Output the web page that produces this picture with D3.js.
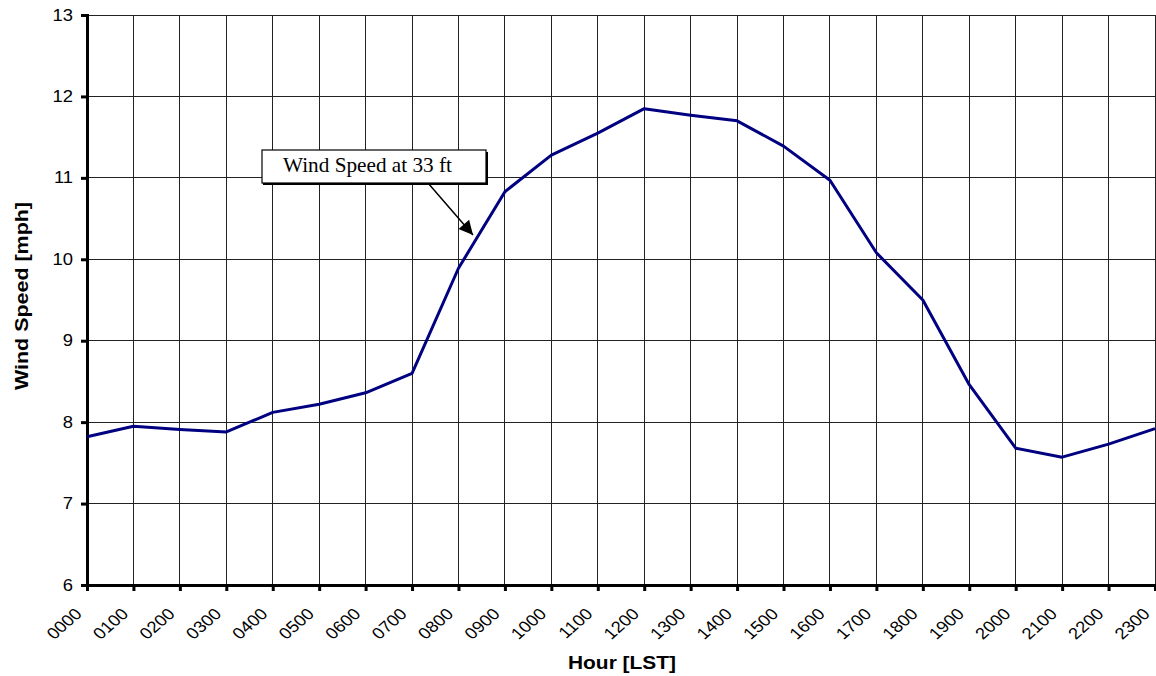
<!DOCTYPE html>
<html><head><meta charset="utf-8">
<script src="https://cdn.jsdelivr.net/npm/d3@7"></script>
<style>body{margin:0;background:#fff}</style>
</head><body><svg id="c" width="1156" height="676"></svg>
<script>
const hours = ["0000","0100","0200","0300","0400","0500","0600","0700","0800","0900","1000","1100","1200","1300","1400","1500","1600","1700","1800","1900","2000","2100","2200","2300"];
const windSpeed = [7.82,7.95,7.91,7.88,8.12,8.22,8.36,8.60,9.89,10.83,11.28,11.55,11.85,11.77,11.70,11.39,10.97,10.08,9.50,8.46,7.68,7.57,7.73,7.92];
const yTicks = [6,7,8,9,10,11,12,13];
const annotation = "Wind Speed at 33 ft";

const svg = d3.select("#c");
const L=87, R=1155, T=15, B=585;
const x = d3.scalePoint().domain(hours).range([L,R]);
const y = d3.scaleLinear().domain([6,13]).range([B,T]);
const SANS = "Arial, 'Liberation Sans', sans-serif";

// grid
svg.append("g").selectAll("line").data(yTicks).join("line")
  .attr("x1",L).attr("x2",R).attr("y1",d=>y(d)).attr("y2",d=>y(d))
  .attr("stroke","#222").attr("stroke-width",1).attr("shape-rendering","crispEdges");
svg.append("g").selectAll("line").data(hours.slice(1)).join("line")
  .attr("x1",d=>x(d)).attr("x2",d=>x(d)).attr("y1",T).attr("y2",B)
  .attr("stroke","#222").attr("stroke-width",1).attr("shape-rendering","crispEdges");

// axes
const ya = svg.append("g").attr("transform",`translate(${L},0)`)
  .call(d3.axisLeft(y).tickValues(yTicks).tickSize(6).tickPadding(8).tickFormat(d3.format("d")));
ya.select(".domain").attr("stroke","#000").attr("stroke-width",3);
ya.selectAll(".tick line").attr("stroke","#000").attr("stroke-width",3);
ya.selectAll("text").attr("font-family",SANS).attr("font-size",16).attr("fill","#000")
  .attr("x",null).attr("transform","translate(-14,0) scale(1.15,1)");

const xa = svg.append("g").attr("transform",`translate(0,${B})`)
  .call(d3.axisBottom(x).tickSize(6).tickPadding(6));
xa.select(".domain").attr("stroke","#000").attr("stroke-width",3);
xa.selectAll(".tick line").attr("stroke","#000").attr("stroke-width",3);
xa.selectAll("text").attr("font-family",SANS).attr("font-size",16).attr("fill","#000")
  .attr("text-anchor","end").attr("y",0).attr("x",0).attr("dy","0.35em")
  .attr("transform","translate(-9,26) scale(1.15,1) rotate(-45)");

// line
svg.append("path").datum(windSpeed.map((v,i)=>[hours[i],v]))
  .attr("d",d3.line().x(d=>x(d[0])).y(d=>y(d[1])))
  .attr("fill","none").attr("stroke","#000080").attr("stroke-width",3).attr("stroke-linejoin","round");

// annotation
svg.append("defs").append("marker").attr("id","ah").attr("viewBox","0 0 10 10").attr("refX",10).attr("refY",5)
  .attr("markerWidth",10).attr("markerHeight",8).attr("markerUnits","userSpaceOnUse").attr("orient","auto")
  .attr("markerWidth",16).attr("markerHeight",14)
  .append("path").attr("d","M0,0L10,5L0,10z").attr("fill","#000");
svg.append("line").attr("x1",428).attr("y1",183).attr("x2",473).attr("y2",235)
  .attr("stroke","#000").attr("stroke-width",1.5).attr("marker-end","url(#ah)");
svg.append("rect").attr("x",263).attr("y",152).attr("width",225).attr("height",33).attr("fill","#000");
svg.append("rect").attr("x",262).attr("y",150).attr("width",224).attr("height",33)
  .attr("fill","#fff").attr("stroke","#000").attr("stroke-width",1.2);
svg.append("text").attr("x",283).attr("y",172).attr("textLength",169).attr("lengthAdjust","spacingAndGlyphs")
  .attr("font-family","'Liberation Serif', 'Times New Roman', serif").attr("font-size",21).text(annotation);

// titles
svg.append("text").attr("x",568).attr("y",669).attr("textLength",108).attr("lengthAdjust","spacingAndGlyphs")
  .attr("font-family",SANS).attr("font-weight","bold").attr("font-size",18).text("Hour [LST]");
svg.append("text").attr("transform",`translate(28,390) rotate(-90)`)
  .attr("textLength",188).attr("lengthAdjust","spacingAndGlyphs")
  .attr("font-family",SANS).attr("font-weight","bold").attr("font-size",18).text("Wind Speed [mph]");
</script></body></html>
